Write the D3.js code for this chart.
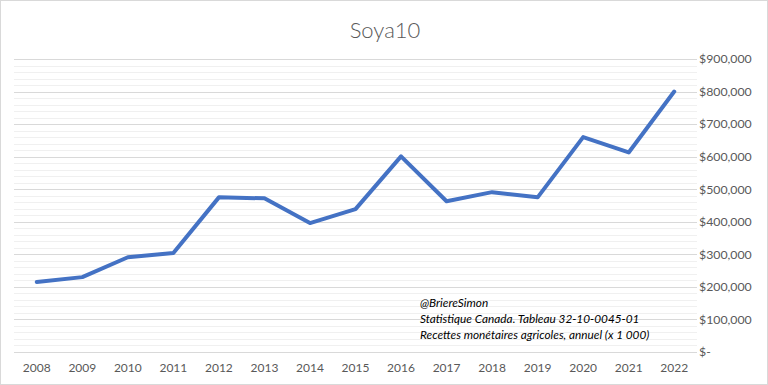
<!DOCTYPE html>
<html><head><meta charset="utf-8">
<script src="https://cdn.jsdelivr.net/npm/d3@7"></script>
<style>html,body{margin:0;padding:0;background:#fff;}</style>
</head><body>
<svg id="c" width="768" height="385"></svg>
<script>
const years = ["2008","2009","2010","2011","2012","2013","2014","2015","2016","2017","2018","2019","2020","2021","2022"];
const values = [215000,230000,291000,304000,475000,472000,396000,439000,601000,463000,491000,475000,660000,613000,800000];
const yTicks = [0,100000,200000,300000,400000,500000,600000,700000,800000,900000];
const title = "Soya10";
const notes = ["@BriereSimon","Statistique Canada. Tableau 32-10-0045-01","Recettes monétaires agricoles, annuel (x 1 000)"];

(function(){
const svg = d3.select("#c");
const font = "Lato, 'Open Sans', sans-serif";
svg.append("rect").attr("x",0.5).attr("y",0.5).attr("width",767).attr("height",384)
  .attr("fill","#fff").attr("stroke","#D9D9D9");

const pL = 14, pR = 697, pT = 59, pB = 352;
const x = d3.scaleBand().domain(years).range([pL,pR]);
const y = d3.scaleLinear().domain([0,900000]).range([pB,pT]);

const minor = d3.range(0,900001,20000).filter(v=>v%100000!==0);
svg.append("g").selectAll("line").data(minor).join("line")
  .attr("x1",pL).attr("x2",pR).attr("y1",d=>Math.round(y(d))+0.5).attr("y2",d=>Math.round(y(d))+0.5)
  .attr("stroke","#F0F0F0").attr("stroke-width",1);
svg.append("g").selectAll("line").data(yTicks).join("line")
  .attr("x1",pL).attr("x2",pR).attr("y1",d=>Math.round(y(d))+0.5).attr("y2",d=>Math.round(y(d))+0.5)
  .attr("stroke","#D9D9D9").attr("stroke-width",1);

svg.append("g").selectAll("text").data(yTicks).join("text")
  .attr("x",699).attr("y",d=>y(d)).attr("dy","0.35em")
  .attr("font-family",font).attr("font-size",12.3).attr("fill","#595959")
  .text(d=> d===0 ? "$-" : "$"+d3.format(",")(d));

svg.append("g").selectAll("text").data(years).join("text")
  .attr("x",d=>x(d)+x.bandwidth()/2).attr("y",372)
  .attr("text-anchor","middle")
  .attr("font-family",font).attr("font-size",12).attr("fill","#595959")
  .text(d=>d);

const line = d3.line().x((d,i)=>x(years[i])+x.bandwidth()/2).y(d=>y(d));
svg.append("path").datum(values).attr("d",line)
  .attr("fill","none").attr("stroke","#4472C4").attr("stroke-width",4)
  .attr("stroke-linejoin","round").attr("stroke-linecap","round");

svg.append("text").attr("x",385).attr("y",38).attr("text-anchor","middle")
  .attr("font-family",font).attr("font-size",22).attr("font-weight",300).attr("fill","#595959").text(title);

svg.append("g").selectAll("text").data(notes).join("text")
  .attr("x",420).attr("y",(d,i)=>307+i*16)
  .attr("font-family",font).attr("font-size",11.8).attr("font-style","italic").attr("fill","#000")
  .text(d=>d);
})();
</script>
</body></html>
